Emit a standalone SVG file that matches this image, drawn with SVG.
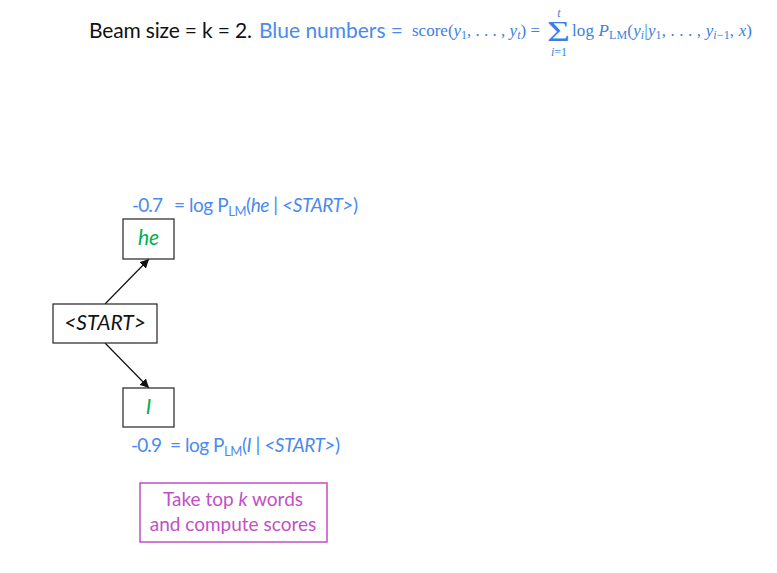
<svg xmlns="http://www.w3.org/2000/svg" width="777" height="573" viewBox="0 0 777 573">
<defs>
<style>
.sans{font-family:Lato,"Open Sans","Liberation Sans",sans-serif}
.serif{font-family:"Liberation Serif","DejaVu Serif",serif}
.blue{fill:#4a8af0}
.fblue{fill:#3d7fe0}
.green{fill:#00b050}
.purple{fill:#c24fc4}
.box{fill:#fff;stroke:#333;stroke-width:1.3}
.edge{stroke:#111;stroke-width:1.2;fill:none}
.it{font-style:italic}
</style>
<marker id="ah" viewBox="0 0 10 10" refX="10" refY="5" markerWidth="9" markerHeight="9" markerUnits="userSpaceOnUse" orient="auto">
<path d="M0,0 L10,5 L0,10 z" fill="#111"/>
</marker>
</defs>
<rect width="777" height="573" fill="#fff"/>

<g id="title">
<text class="sans" x="89" y="38" font-size="21" fill="#111" textLength="163">Beam size = k = 2.</text>
<text class="sans blue" x="259" y="38" font-size="21" textLength="144">Blue numbers =</text>
<g class="serif fblue" font-size="17">
<text x="412" y="36" textLength="128">score(<tspan class="it">y</tspan><tspan font-size="12" dy="3">1</tspan><tspan dy="-3">, . . . , </tspan><tspan class="it">y</tspan><tspan class="it" font-size="12" dy="3">t</tspan><tspan dy="-3">) =</tspan></text>
<text x="547" y="41" font-size="29" textLength="23" lengthAdjust="spacingAndGlyphs">Σ</text>
<text class="it" x="559" y="17" font-size="12" text-anchor="middle">t</text>
<text x="559" y="56" font-size="12" text-anchor="middle"><tspan class="it">i</tspan>=1</text>
<text x="572" y="36" textLength="180">log <tspan class="it">P</tspan><tspan font-size="12" dy="3">LM</tspan><tspan dy="-3">(</tspan><tspan class="it">y</tspan><tspan class="it" font-size="12" dy="3">i</tspan><tspan dy="-3">|</tspan><tspan class="it">y</tspan><tspan font-size="12" dy="3">1</tspan><tspan dy="-3">, . . . , </tspan><tspan class="it">y</tspan><tspan font-size="12" dy="3"><tspan class="it">i</tspan>−1</tspan><tspan dy="-3">, </tspan><tspan class="it">x</tspan>)</text>
</g>
</g>

<g id="connectors">
<line class="edge" x1="105" y1="304" x2="149" y2="259" marker-end="url(#ah)"/>
<line class="edge" x1="105" y1="343" x2="149" y2="388" marker-end="url(#ah)"/>
</g>

<g id="node-start">
<rect class="box" x="53" y="304" width="104" height="39"/>
<text class="sans it" x="105" y="330" font-size="21" text-anchor="middle" fill="#111">&lt;START&gt;</text>
</g>

<g id="node-he">
<rect class="box" x="123" y="219" width="51" height="40"/>
<text class="sans it green" x="148.5" y="245" font-size="21" text-anchor="middle">he</text>
</g>

<g id="node-I">
<rect class="box" x="123" y="388" width="51" height="39"/>
<text class="sans it green" x="148.5" y="414" font-size="21" text-anchor="middle">I</text>
</g>

<g id="label-he" class="sans blue" font-size="19">
<text x="132" y="212" textLength="31">-0.7</text>
<text x="174" y="212" textLength="184">= log P<tspan font-size="13" dy="4">LM</tspan><tspan dy="-4">(</tspan><tspan class="it">he</tspan> | <tspan class="it">&lt;START&gt;</tspan>)</text>
</g>

<g id="label-I" class="sans blue" font-size="19">
<text x="131" y="452" textLength="31">-0.9</text>
<text x="170" y="452" textLength="170">= log P<tspan font-size="13" dy="4">LM</tspan><tspan dy="-4">(</tspan><tspan class="it">I</tspan> | <tspan class="it">&lt;START&gt;</tspan>)</text>
</g>

<g id="note">
<rect x="140" y="483" width="187" height="59" fill="#fff" stroke="#c24fc4" stroke-width="1.5"/>
<text class="sans purple" x="233" y="506" font-size="19" text-anchor="middle">Take top <tspan class="it">k</tspan> words</text>
<text class="sans purple" x="233" y="531" font-size="19" text-anchor="middle">and compute scores</text>
</g>
</svg>
